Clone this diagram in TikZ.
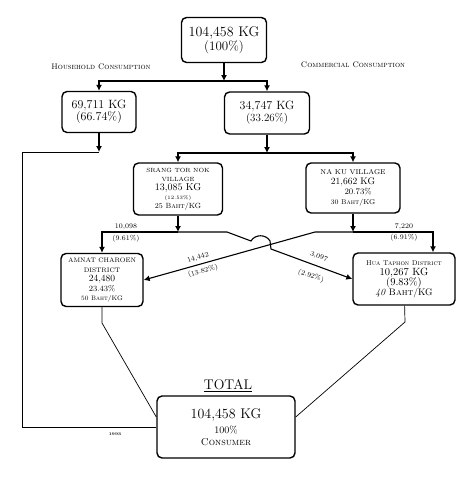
\documentclass[tikz,border=0pt]{standalone}
\usepackage{tikz}
\usetikzlibrary{positioning, arrows.meta, calc}

\tikzset{
  box/.style={draw, line width=1.4pt, rounded corners=5pt, align=center, inner sep=1pt, fill=white},
  flow/.style={line width=1.1pt, arrows = {-Latex[width=6pt, length=6pt]}},
  thinline/.style={line width=0.7pt},
  lbl/.style={font=\fontsize{8}{9}\selectfont\scshape},
  qty/.style={font=\fontsize{7}{7}\selectfont, inner sep=0.5pt}
}

\begin{document}
\begin{tikzpicture}[x=1pt, y=-1pt]
      \useasboundingbox (0,0) rectangle (471,477);

      % top of the chain
      \node[box, minimum width=85, minimum height=45] at (224,40) (supply) {\fontsize{14}{15}\selectfont 104,458 KG\\[1pt] \fontsize{13}{14}\selectfont (100\%)};
      \node[lbl] at (101,67) (hhlabel) {Household Consumption};
      \node[lbl] at (353,65) (comlabel) {Commercial Consumption};

      \node[box, minimum width=74, minimum height=41] at (99,112) (household) {\fontsize{12}{13}\selectfont 69,711 KG\\ \fontsize{12}{13}\selectfont (66.74\%)};
      \node[box, minimum width=85, minimum height=42] at (267,113) (commercial) {\fontsize{12}{13}\selectfont 34,747 KG\\ \fontsize{11}{12}\selectfont (33.26\%)};

      % villages
      \node[box, minimum width=89, minimum height=52] at (178,189) (srang) {\fontsize{6}{6}\selectfont SRANG TOR NOK\\[-3pt] \fontsize{6}{6}\selectfont VILLAGE\\[-3pt] \fontsize{10}{10}\selectfont 13,085 KG\\[-3pt] \fontsize{5}{5}\selectfont (12.53\%)\\[-3pt] \fontsize{7.5}{7.5}\selectfont 25 \textsc{Baht}/KG};
      \node[box, minimum width=94, minimum height=50] at (353,188) (naku) {\fontsize{7}{7}\selectfont NA KU VILLAGE\\[-2pt] \fontsize{9.5}{9.5}\selectfont 21,662 KG\\[-2pt] \fontsize{8.5}{8.5}\selectfont \hspace*{1.2em}20.73\%\\[-2pt] \fontsize{7}{7}\selectfont 30 \textsc{Baht}/KG};

      % districts
      \node[box, minimum width=82, minimum height=53] at (102,280) (amnat) {\fontsize{6.5}{6.5}\selectfont AMNAT CHAROEN\\[-2.5pt] \fontsize{6.5}{6.5}\selectfont DISTRICT\\[-2.5pt] \fontsize{9.5}{9.5}\selectfont 24,480\\[-2.5pt] \fontsize{8}{8}\selectfont 23.43\%\\[-2.5pt] \fontsize{6.5}{6.5}\selectfont 50 \textsc{Baht}/KG};
      \node[box, minimum width=102, minimum height=52] at (404,279) (hua) {\fontsize{7}{7}\selectfont \textsc{Hua Taphon District}\\[-2pt] \fontsize{10.5}{10.5}\selectfont 10,267 KG\\[-2pt] \fontsize{10.5}{10.5}\selectfont (9.83\%)\\[-2pt] \fontsize{9.5}{9.5}\selectfont \textit{40} \textsc{Baht}/KG};

      % total
      \node[font=\fontsize{14}{15}\selectfont] at (228,386) (totallabel) {\underline{TOTAL}};
      \node[box, minimum width=138, minimum height=62] at (226,427) (total) {\fontsize{14}{15}\selectfont 104,458 KG\\[3pt] \fontsize{10}{11}\selectfont 100\%\\ \fontsize{10}{11}\selectfont \textsc{Consumer}};
      \node[font=\fontsize{4}{4}\selectfont\bfseries] at (115,434) (year) {1993};

      % split points
      \coordinate (s1) at (224,81);
      \coordinate (s2) at (267,153);
      \coordinate (s3) at (178,232);
      \coordinate (s4) at (353,232);
      \coordinate (hhend) at (99,152);
      \coordinate (hhcorner) at (22,152);

      \draw[flow] (supply) -- (s1);
      \draw[flow] (s1) -| (household);
      \draw[flow] (s1) -| (commercial);

      \draw[flow] (household) -- (hhend);
      \draw[thinline] (hhend) -- (hhcorner) |- (total.west);

      \draw[flow] (commercial) -- (s2);
      \draw[flow] (s2) -| (srang);
      \draw[flow] (s2) -| (naku);

      \draw[flow] (srang) -- (s3);
      \draw[flow] (naku) -- (s4);
      \draw[flow] (s3) -| (amnat);
      \draw[flow] (s4) -| ([xshift=29pt]hua.north);
      \draw[flow] (s4) -- (315,232) -- (amnat.east);
      \draw[flow] (s3) -- (227,232) -- (251,241) .. controls (255,234) and (266,234) .. (270,241) -- (271,249) -- (hua.west);

      % flow labels
      \node[qty] at (126,227) (q1) {10,098};
      \node[qty] at (126,239) (q1p) {(9.61\%)};
      \node[qty] at (404,227) (q2) {7,220};
      \node[qty] at (404,238) (q2p) {(6.91\%)};
      \node[qty, rotate=16] at (198,258) (q3) {14,442};
      \node[qty, rotate=16] at (203,271) (q3p) {(13.82\%)};
      \node[qty, rotate=-20] at (319,257) (q4) {3,097};
      \node[qty, rotate=-20] at (311,276) (q4p) {(2.92\%)};

      % to the consumer
      \coordinate (amnatbend) at (102,323);
      \coordinate (huabend) at (405,322);
      \draw[thinline] (amnat) -- (amnatbend) -- ([yshift=10pt]total.west);
      \draw[thinline] (hua) -- (huabend) -- ([yshift=10pt]total.east);
    \end{tikzpicture}
\end{document}
